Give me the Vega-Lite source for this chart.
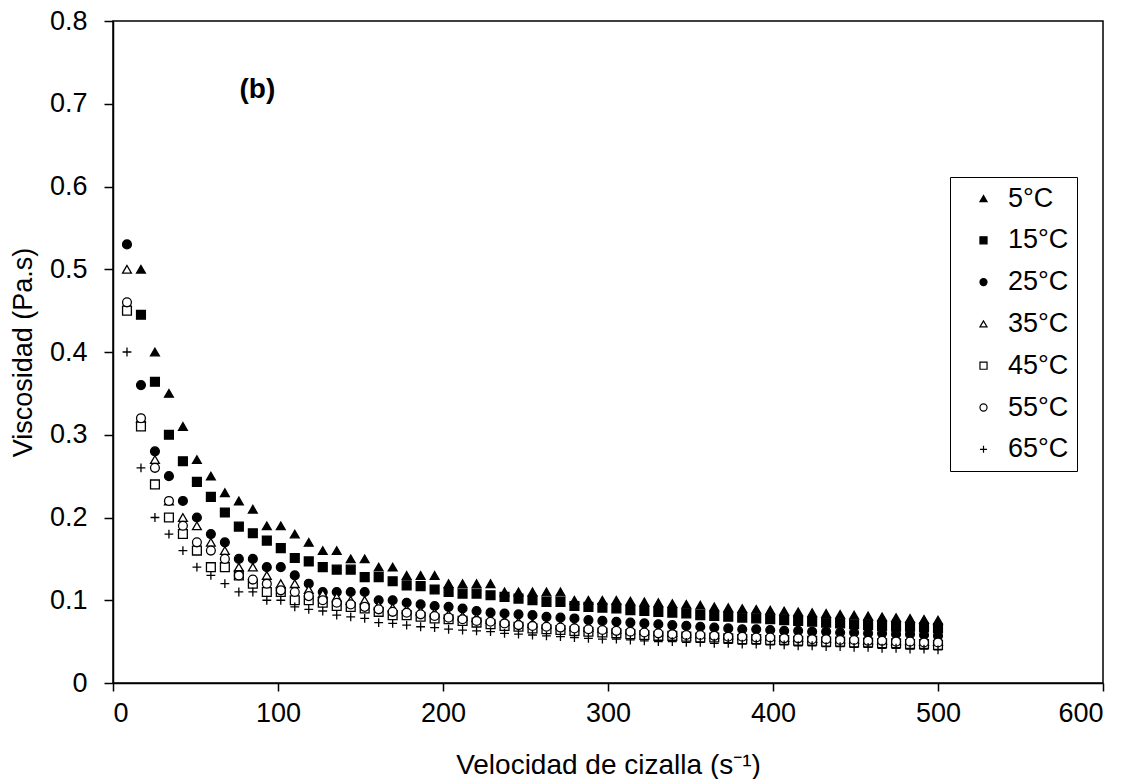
{
"$schema":"https://vega.github.io/schema/vega-lite/v6.json",
"width":990,"height":662,
"autosize":"none",
"padding":{"left":113,"top":21,"right":33,"bottom":96},
"config":{"font":"Liberation Sans","view":{"stroke":"black","strokeWidth":1.5}},
"layer":[
{
"data":{"values":[
{"T":"5°C","x":16.95,"v":0.5},{"T":"5°C","x":25.42,"v":0.4},{"T":"5°C","x":33.9,"v":0.35},{"T":"5°C","x":42.37,"v":0.31},{"T":"5°C","x":50.85,"v":0.27},{"T":"5°C","x":59.32,"v":0.25},{"T":"5°C","x":67.8,"v":0.23},{"T":"5°C","x":76.27,"v":0.22},{"T":"5°C","x":84.75,"v":0.21},{"T":"5°C","x":93.22,"v":0.19},{"T":"5°C","x":101.69,"v":0.19},{"T":"5°C","x":110.17,"v":0.18},{"T":"5°C","x":118.64,"v":0.17},{"T":"5°C","x":127.12,"v":0.16},{"T":"5°C","x":135.59,"v":0.16},{"T":"5°C","x":144.07,"v":0.15},{"T":"5°C","x":152.54,"v":0.15},{"T":"5°C","x":161.02,"v":0.14},{"T":"5°C","x":169.49,"v":0.14},{"T":"5°C","x":177.97,"v":0.13},{"T":"5°C","x":186.44,"v":0.13},{"T":"5°C","x":194.92,"v":0.13},{"T":"5°C","x":203.39,"v":0.12},{"T":"5°C","x":211.86,"v":0.12},{"T":"5°C","x":220.34,"v":0.12},{"T":"5°C","x":228.81,"v":0.12},{"T":"5°C","x":237.29,"v":0.11},{"T":"5°C","x":245.76,"v":0.11},{"T":"5°C","x":254.24,"v":0.11},{"T":"5°C","x":262.71,"v":0.11},{"T":"5°C","x":271.19,"v":0.11},{"T":"5°C","x":279.66,"v":0.1},{"T":"5°C","x":288.14,"v":0.1},{"T":"5°C","x":296.61,"v":0.1},{"T":"5°C","x":305.08,"v":0.1},{"T":"5°C","x":313.56,"v":0.099},{"T":"5°C","x":322.03,"v":0.098},{"T":"5°C","x":330.51,"v":0.097},{"T":"5°C","x":338.98,"v":0.096},{"T":"5°C","x":347.46,"v":0.095},{"T":"5°C","x":355.93,"v":0.094},{"T":"5°C","x":364.41,"v":0.092},{"T":"5°C","x":372.88,"v":0.091},{"T":"5°C","x":381.36,"v":0.09},{"T":"5°C","x":389.83,"v":0.089},{"T":"5°C","x":398.31,"v":0.088},{"T":"5°C","x":406.78,"v":0.087},{"T":"5°C","x":415.25,"v":0.086},{"T":"5°C","x":423.73,"v":0.085},{"T":"5°C","x":432.2,"v":0.084},{"T":"5°C","x":440.68,"v":0.083},{"T":"5°C","x":449.15,"v":0.082},{"T":"5°C","x":457.63,"v":0.081},{"T":"5°C","x":466.1,"v":0.08},{"T":"5°C","x":474.58,"v":0.079},{"T":"5°C","x":483.05,"v":0.078},{"T":"5°C","x":491.53,"v":0.077},{"T":"5°C","x":500,"v":0.076},
{"T":"15°C","x":16.95,"v":0.445},{"T":"15°C","x":25.42,"v":0.364},{"T":"15°C","x":33.9,"v":0.3},{"T":"15°C","x":42.37,"v":0.268},{"T":"15°C","x":50.85,"v":0.243},{"T":"15°C","x":59.32,"v":0.225},{"T":"15°C","x":67.8,"v":0.206},{"T":"15°C","x":76.27,"v":0.189},{"T":"15°C","x":84.75,"v":0.181},{"T":"15°C","x":93.22,"v":0.172},{"T":"15°C","x":101.69,"v":0.163},{"T":"15°C","x":110.17,"v":0.151},{"T":"15°C","x":118.64,"v":0.147},{"T":"15°C","x":127.12,"v":0.14},{"T":"15°C","x":135.59,"v":0.137},{"T":"15°C","x":144.07,"v":0.137},{"T":"15°C","x":152.54,"v":0.128},{"T":"15°C","x":161.02,"v":0.128},{"T":"15°C","x":169.49,"v":0.123},{"T":"15°C","x":177.97,"v":0.118},{"T":"15°C","x":186.44,"v":0.117},{"T":"15°C","x":194.92,"v":0.113},{"T":"15°C","x":203.39,"v":0.11},{"T":"15°C","x":211.86,"v":0.108},{"T":"15°C","x":220.34,"v":0.108},{"T":"15°C","x":228.81,"v":0.106},{"T":"15°C","x":237.29,"v":0.104},{"T":"15°C","x":245.76,"v":0.102},{"T":"15°C","x":254.24,"v":0.1},{"T":"15°C","x":262.71,"v":0.098},{"T":"15°C","x":271.19,"v":0.098},{"T":"15°C","x":279.66,"v":0.093},{"T":"15°C","x":288.14,"v":0.092},{"T":"15°C","x":296.61,"v":0.091},{"T":"15°C","x":305.08,"v":0.09},{"T":"15°C","x":313.56,"v":0.088},{"T":"15°C","x":322.03,"v":0.087},{"T":"15°C","x":330.51,"v":0.086},{"T":"15°C","x":338.98,"v":0.085},{"T":"15°C","x":347.46,"v":0.084},{"T":"15°C","x":355.93,"v":0.082},{"T":"15°C","x":364.41,"v":0.081},{"T":"15°C","x":372.88,"v":0.08},{"T":"15°C","x":381.36,"v":0.079},{"T":"15°C","x":389.83,"v":0.078},{"T":"15°C","x":398.31,"v":0.077},{"T":"15°C","x":406.78,"v":0.076},{"T":"15°C","x":415.25,"v":0.075},{"T":"15°C","x":423.73,"v":0.074},{"T":"15°C","x":432.2,"v":0.073},{"T":"15°C","x":440.68,"v":0.072},{"T":"15°C","x":449.15,"v":0.071},{"T":"15°C","x":457.63,"v":0.07},{"T":"15°C","x":466.1,"v":0.069},{"T":"15°C","x":474.58,"v":0.068},{"T":"15°C","x":483.05,"v":0.068},{"T":"15°C","x":491.53,"v":0.067},{"T":"15°C","x":500,"v":0.066},
{"T":"25°C","x":8.47,"v":0.53},{"T":"25°C","x":16.95,"v":0.36},{"T":"25°C","x":25.42,"v":0.28},{"T":"25°C","x":33.9,"v":0.25},{"T":"25°C","x":42.37,"v":0.22},{"T":"25°C","x":50.85,"v":0.2},{"T":"25°C","x":59.32,"v":0.18},{"T":"25°C","x":67.8,"v":0.17},{"T":"25°C","x":76.27,"v":0.15},{"T":"25°C","x":84.75,"v":0.15},{"T":"25°C","x":93.22,"v":0.14},{"T":"25°C","x":101.69,"v":0.14},{"T":"25°C","x":110.17,"v":0.13},{"T":"25°C","x":118.64,"v":0.12},{"T":"25°C","x":127.12,"v":0.11},{"T":"25°C","x":135.59,"v":0.11},{"T":"25°C","x":144.07,"v":0.11},{"T":"25°C","x":152.54,"v":0.11},{"T":"25°C","x":161.02,"v":0.1},{"T":"25°C","x":169.49,"v":0.1},{"T":"25°C","x":177.97,"v":0.097},{"T":"25°C","x":186.44,"v":0.095},{"T":"25°C","x":194.92,"v":0.093},{"T":"25°C","x":203.39,"v":0.092},{"T":"25°C","x":211.86,"v":0.09},{"T":"25°C","x":220.34,"v":0.087},{"T":"25°C","x":228.81,"v":0.085},{"T":"25°C","x":237.29,"v":0.084},{"T":"25°C","x":245.76,"v":0.083},{"T":"25°C","x":254.24,"v":0.082},{"T":"25°C","x":262.71,"v":0.08},{"T":"25°C","x":271.19,"v":0.079},{"T":"25°C","x":279.66,"v":0.078},{"T":"25°C","x":288.14,"v":0.076},{"T":"25°C","x":296.61,"v":0.075},{"T":"25°C","x":305.08,"v":0.074},{"T":"25°C","x":313.56,"v":0.073},{"T":"25°C","x":322.03,"v":0.072},{"T":"25°C","x":330.51,"v":0.071},{"T":"25°C","x":338.98,"v":0.07},{"T":"25°C","x":347.46,"v":0.069},{"T":"25°C","x":355.93,"v":0.068},{"T":"25°C","x":364.41,"v":0.067},{"T":"25°C","x":372.88,"v":0.066},{"T":"25°C","x":381.36,"v":0.065},{"T":"25°C","x":389.83,"v":0.065},{"T":"25°C","x":398.31,"v":0.064},{"T":"25°C","x":406.78,"v":0.063},{"T":"25°C","x":415.25,"v":0.063},{"T":"25°C","x":423.73,"v":0.062},{"T":"25°C","x":432.2,"v":0.062},{"T":"25°C","x":440.68,"v":0.061},{"T":"25°C","x":449.15,"v":0.061},{"T":"25°C","x":457.63,"v":0.06},{"T":"25°C","x":466.1,"v":0.06},{"T":"25°C","x":474.58,"v":0.059},{"T":"25°C","x":483.05,"v":0.059},{"T":"25°C","x":491.53,"v":0.058},{"T":"25°C","x":500,"v":0.057},
{"T":"35°C","x":8.47,"v":0.5},{"T":"35°C","x":16.95,"v":0.32},{"T":"35°C","x":25.42,"v":0.27},{"T":"35°C","x":33.9,"v":0.22},{"T":"35°C","x":42.37,"v":0.2},{"T":"35°C","x":50.85,"v":0.19},{"T":"35°C","x":59.32,"v":0.17},{"T":"35°C","x":67.8,"v":0.16},{"T":"35°C","x":76.27,"v":0.14},{"T":"35°C","x":84.75,"v":0.14},{"T":"35°C","x":93.22,"v":0.13},{"T":"35°C","x":101.69,"v":0.12},{"T":"35°C","x":110.17,"v":0.12},{"T":"35°C","x":118.64,"v":0.113},{"T":"35°C","x":127.12,"v":0.108},{"T":"35°C","x":135.59,"v":0.104},{"T":"35°C","x":144.07,"v":0.1},{"T":"35°C","x":152.54,"v":0.1},{"T":"35°C","x":161.02,"v":0.094},{"T":"35°C","x":169.49,"v":0.091},{"T":"35°C","x":177.97,"v":0.089},{"T":"35°C","x":186.44,"v":0.087},{"T":"35°C","x":194.92,"v":0.085},{"T":"35°C","x":203.39,"v":0.083},{"T":"35°C","x":211.86,"v":0.081},{"T":"35°C","x":220.34,"v":0.079},{"T":"35°C","x":228.81,"v":0.077},{"T":"35°C","x":237.29,"v":0.075},{"T":"35°C","x":245.76,"v":0.074},{"T":"35°C","x":254.24,"v":0.072},{"T":"35°C","x":262.71,"v":0.071},{"T":"35°C","x":271.19,"v":0.07},{"T":"35°C","x":279.66,"v":0.068},{"T":"35°C","x":288.14,"v":0.067},{"T":"35°C","x":296.61,"v":0.066},{"T":"35°C","x":305.08,"v":0.065},{"T":"35°C","x":313.56,"v":0.064},{"T":"35°C","x":322.03,"v":0.063},{"T":"35°C","x":330.51,"v":0.062},{"T":"35°C","x":338.98,"v":0.061},{"T":"35°C","x":347.46,"v":0.06},{"T":"35°C","x":355.93,"v":0.059},{"T":"35°C","x":364.41,"v":0.059},{"T":"35°C","x":372.88,"v":0.058},{"T":"35°C","x":381.36,"v":0.057},{"T":"35°C","x":389.83,"v":0.057},{"T":"35°C","x":398.31,"v":0.056},{"T":"35°C","x":406.78,"v":0.055},{"T":"35°C","x":415.25,"v":0.055},{"T":"35°C","x":423.73,"v":0.054},{"T":"35°C","x":432.2,"v":0.054},{"T":"35°C","x":440.68,"v":0.053},{"T":"35°C","x":449.15,"v":0.053},{"T":"35°C","x":457.63,"v":0.052},{"T":"35°C","x":466.1,"v":0.052},{"T":"35°C","x":474.58,"v":0.051},{"T":"35°C","x":483.05,"v":0.051},{"T":"35°C","x":491.53,"v":0.05},{"T":"35°C","x":500,"v":0.05},
{"T":"45°C","x":8.47,"v":0.45},{"T":"45°C","x":16.95,"v":0.31},{"T":"45°C","x":25.42,"v":0.24},{"T":"45°C","x":33.9,"v":0.2},{"T":"45°C","x":42.37,"v":0.18},{"T":"45°C","x":50.85,"v":0.16},{"T":"45°C","x":59.32,"v":0.14},{"T":"45°C","x":67.8,"v":0.14},{"T":"45°C","x":76.27,"v":0.13},{"T":"45°C","x":84.75,"v":0.12},{"T":"45°C","x":93.22,"v":0.11},{"T":"45°C","x":101.69,"v":0.11},{"T":"45°C","x":110.17,"v":0.1},{"T":"45°C","x":118.64,"v":0.1},{"T":"45°C","x":127.12,"v":0.097},{"T":"45°C","x":135.59,"v":0.093},{"T":"45°C","x":144.07,"v":0.092},{"T":"45°C","x":152.54,"v":0.09},{"T":"45°C","x":161.02,"v":0.086},{"T":"45°C","x":169.49,"v":0.082},{"T":"45°C","x":177.97,"v":0.082},{"T":"45°C","x":186.44,"v":0.08},{"T":"45°C","x":194.92,"v":0.078},{"T":"45°C","x":203.39,"v":0.077},{"T":"45°C","x":211.86,"v":0.075},{"T":"45°C","x":220.34,"v":0.073},{"T":"45°C","x":228.81,"v":0.071},{"T":"45°C","x":237.29,"v":0.069},{"T":"45°C","x":245.76,"v":0.068},{"T":"45°C","x":254.24,"v":0.066},{"T":"45°C","x":262.71,"v":0.065},{"T":"45°C","x":271.19,"v":0.064},{"T":"45°C","x":279.66,"v":0.063},{"T":"45°C","x":288.14,"v":0.062},{"T":"45°C","x":296.61,"v":0.061},{"T":"45°C","x":305.08,"v":0.06},{"T":"45°C","x":313.56,"v":0.059},{"T":"45°C","x":322.03,"v":0.058},{"T":"45°C","x":330.51,"v":0.057},{"T":"45°C","x":338.98,"v":0.057},{"T":"45°C","x":347.46,"v":0.056},{"T":"45°C","x":355.93,"v":0.055},{"T":"45°C","x":364.41,"v":0.055},{"T":"45°C","x":372.88,"v":0.054},{"T":"45°C","x":381.36,"v":0.053},{"T":"45°C","x":389.83,"v":0.053},{"T":"45°C","x":398.31,"v":0.052},{"T":"45°C","x":406.78,"v":0.052},{"T":"45°C","x":415.25,"v":0.051},{"T":"45°C","x":423.73,"v":0.051},{"T":"45°C","x":432.2,"v":0.05},{"T":"45°C","x":440.68,"v":0.05},{"T":"45°C","x":449.15,"v":0.049},{"T":"45°C","x":457.63,"v":0.049},{"T":"45°C","x":466.1,"v":0.048},{"T":"45°C","x":474.58,"v":0.048},{"T":"45°C","x":483.05,"v":0.047},{"T":"45°C","x":491.53,"v":0.047},{"T":"45°C","x":500,"v":0.046},
{"T":"55°C","x":8.47,"v":0.46},{"T":"55°C","x":16.95,"v":0.32},{"T":"55°C","x":25.42,"v":0.26},{"T":"55°C","x":33.9,"v":0.22},{"T":"55°C","x":42.37,"v":0.19},{"T":"55°C","x":50.85,"v":0.17},{"T":"55°C","x":59.32,"v":0.16},{"T":"55°C","x":67.8,"v":0.15},{"T":"55°C","x":76.27,"v":0.13},{"T":"55°C","x":84.75,"v":0.125},{"T":"55°C","x":93.22,"v":0.12},{"T":"55°C","x":101.69,"v":0.112},{"T":"55°C","x":110.17,"v":0.11},{"T":"55°C","x":118.64,"v":0.105},{"T":"55°C","x":127.12,"v":0.1},{"T":"55°C","x":135.59,"v":0.097},{"T":"55°C","x":144.07,"v":0.095},{"T":"55°C","x":152.54,"v":0.092},{"T":"55°C","x":161.02,"v":0.089},{"T":"55°C","x":169.49,"v":0.086},{"T":"55°C","x":177.97,"v":0.085},{"T":"55°C","x":186.44,"v":0.083},{"T":"55°C","x":194.92,"v":0.081},{"T":"55°C","x":203.39,"v":0.079},{"T":"55°C","x":211.86,"v":0.077},{"T":"55°C","x":220.34,"v":0.075},{"T":"55°C","x":228.81,"v":0.074},{"T":"55°C","x":237.29,"v":0.072},{"T":"55°C","x":245.76,"v":0.07},{"T":"55°C","x":254.24,"v":0.069},{"T":"55°C","x":262.71,"v":0.068},{"T":"55°C","x":271.19,"v":0.067},{"T":"55°C","x":279.66,"v":0.066},{"T":"55°C","x":288.14,"v":0.065},{"T":"55°C","x":296.61,"v":0.064},{"T":"55°C","x":305.08,"v":0.063},{"T":"55°C","x":313.56,"v":0.062},{"T":"55°C","x":322.03,"v":0.061},{"T":"55°C","x":330.51,"v":0.06},{"T":"55°C","x":338.98,"v":0.059},{"T":"55°C","x":347.46,"v":0.058},{"T":"55°C","x":355.93,"v":0.058},{"T":"55°C","x":364.41,"v":0.057},{"T":"55°C","x":372.88,"v":0.056},{"T":"55°C","x":381.36,"v":0.056},{"T":"55°C","x":389.83,"v":0.055},{"T":"55°C","x":398.31,"v":0.055},{"T":"55°C","x":406.78,"v":0.054},{"T":"55°C","x":415.25,"v":0.054},{"T":"55°C","x":423.73,"v":0.053},{"T":"55°C","x":432.2,"v":0.053},{"T":"55°C","x":440.68,"v":0.052},{"T":"55°C","x":449.15,"v":0.052},{"T":"55°C","x":457.63,"v":0.051},{"T":"55°C","x":466.1,"v":0.051},{"T":"55°C","x":474.58,"v":0.05},{"T":"55°C","x":483.05,"v":0.05},{"T":"55°C","x":491.53,"v":0.049},{"T":"55°C","x":500,"v":0.049},
{"T":"65°C","x":8.47,"v":0.4},{"T":"65°C","x":16.95,"v":0.26},{"T":"65°C","x":25.42,"v":0.2},{"T":"65°C","x":33.9,"v":0.18},{"T":"65°C","x":42.37,"v":0.16},{"T":"65°C","x":50.85,"v":0.14},{"T":"65°C","x":59.32,"v":0.13},{"T":"65°C","x":67.8,"v":0.12},{"T":"65°C","x":76.27,"v":0.11},{"T":"65°C","x":84.75,"v":0.11},{"T":"65°C","x":93.22,"v":0.1},{"T":"65°C","x":101.69,"v":0.1},{"T":"65°C","x":110.17,"v":0.092},{"T":"65°C","x":118.64,"v":0.089},{"T":"65°C","x":127.12,"v":0.087},{"T":"65°C","x":135.59,"v":0.082},{"T":"65°C","x":144.07,"v":0.08},{"T":"65°C","x":152.54,"v":0.078},{"T":"65°C","x":161.02,"v":0.073},{"T":"65°C","x":169.49,"v":0.072},{"T":"65°C","x":177.97,"v":0.07},{"T":"65°C","x":186.44,"v":0.068},{"T":"65°C","x":194.92,"v":0.067},{"T":"65°C","x":203.39,"v":0.065},{"T":"65°C","x":211.86,"v":0.064},{"T":"65°C","x":220.34,"v":0.063},{"T":"65°C","x":228.81,"v":0.062},{"T":"65°C","x":237.29,"v":0.06},{"T":"65°C","x":245.76,"v":0.059},{"T":"65°C","x":254.24,"v":0.058},{"T":"65°C","x":262.71,"v":0.057},{"T":"65°C","x":271.19,"v":0.056},{"T":"65°C","x":279.66,"v":0.055},{"T":"65°C","x":288.14,"v":0.054},{"T":"65°C","x":296.61,"v":0.053},{"T":"65°C","x":305.08,"v":0.053},{"T":"65°C","x":313.56,"v":0.052},{"T":"65°C","x":322.03,"v":0.051},{"T":"65°C","x":330.51,"v":0.05},{"T":"65°C","x":338.98,"v":0.05},{"T":"65°C","x":347.46,"v":0.049},{"T":"65°C","x":355.93,"v":0.049},{"T":"65°C","x":364.41,"v":0.048},{"T":"65°C","x":372.88,"v":0.048},{"T":"65°C","x":381.36,"v":0.047},{"T":"65°C","x":389.83,"v":0.047},{"T":"65°C","x":398.31,"v":0.046},{"T":"65°C","x":406.78,"v":0.046},{"T":"65°C","x":415.25,"v":0.045},{"T":"65°C","x":423.73,"v":0.045},{"T":"65°C","x":432.2,"v":0.044},{"T":"65°C","x":440.68,"v":0.044},{"T":"65°C","x":449.15,"v":0.043},{"T":"65°C","x":457.63,"v":0.043},{"T":"65°C","x":466.1,"v":0.042},{"T":"65°C","x":474.58,"v":0.042},{"T":"65°C","x":483.05,"v":0.041},{"T":"65°C","x":491.53,"v":0.041},{"T":"65°C","x":500,"v":0.04}
]},
"mark":{"type":"point","filled":true,"opacity":1,"stroke":"black","strokeWidth":1.3,"size":78},
"encoding":{
"x":{"field":"x","type":"quantitative","scale":{"domain":[0,600],"nice":false,"zero":false},
 "axis":{"values":[0,100,200,300,400,500,600],"title":"Velocidad de cizalla (s⁻¹)","grid":false,"domainColor":"black","domainWidth":1.5,"tickColor":"black","tickWidth":1.5,"tickSize":8,"labelFontSize":27,"labelColor":"black","labelPadding":9,"labelFont":"Liberation Sans","titleFont":"Liberation Sans","titleFontSize":28,"titleFontWeight":"normal","titleColor":"black","titlePadding":25}},
"y":{"field":"v","type":"quantitative","scale":{"domain":[0,0.8],"nice":false,"zero":false},
 "axis":{"values":[0,0.1,0.2,0.3,0.4,0.5,0.6,0.7,0.8],"format":"~g","title":"Viscosidad (Pa.s)","grid":false,"domainColor":"black","domainWidth":1.5,"tickColor":"black","tickWidth":1.5,"tickSize":9,"labelFontSize":27,"labelColor":"black","labelPadding":17,"labelFont":"Liberation Sans","titleFont":"Liberation Sans","titleFontSize":27,"titleFontWeight":"normal","titleColor":"black","titlePadding":12}},
"shape":{"field":"T","type":"nominal","scale":{"domain":["5°C","15°C","25°C","35°C","45°C","55°C","65°C"],"range":["triangle-up","square","circle","triangle-up","square","circle","M-1,0H1M0,-1V1"]},
 "legend":{"title":null,"orient":"none","legendX":837,"legendY":156,"strokeColor":"black","fillColor":"white","padding":8,"rowPadding":13.8,"labelFontSize":27,"labelFont":"Liberation Sans","labelColor":"black","labelOffset":11,"symbolOffset":12,"symbolSize":50,"symbolStrokeColor":"black","symbolStrokeWidth":1.2,"symbolOpacity":1,
  "encode":{"symbols":{"update":{"stroke":{"value":"black"},"strokeWidth":{"value":1.2}}}}}},
"fill":{"field":"T","type":"nominal","scale":{"domain":["5°C","15°C","25°C","35°C","45°C","55°C","65°C"],"range":["black","black","black","white","white","white","transparent"]},
 "legend":{"title":null,"orient":"none","legendX":837,"legendY":156,"strokeColor":"black","fillColor":"white","padding":8,"rowPadding":13.8,"labelFontSize":27,"labelFont":"Liberation Sans","labelColor":"black","labelOffset":11,"symbolOffset":12,"symbolSize":50,"symbolStrokeColor":"black","symbolStrokeWidth":1.2,"symbolOpacity":1,
  "encode":{"symbols":{"update":{"stroke":{"value":"black"},"strokeWidth":{"value":1.2}}}}}}
}
},
{
"data":{"values":[{"lab":"(b)","x":87.5,"v":0.717}]},
"mark":{"type":"text","font":"Liberation Sans","fontSize":28,"fontWeight":"bold","color":"black"},
"encoding":{
"x":{"field":"x","type":"quantitative"},
"y":{"field":"v","type":"quantitative"},
"text":{"field":"lab"}
}
}
]
}
